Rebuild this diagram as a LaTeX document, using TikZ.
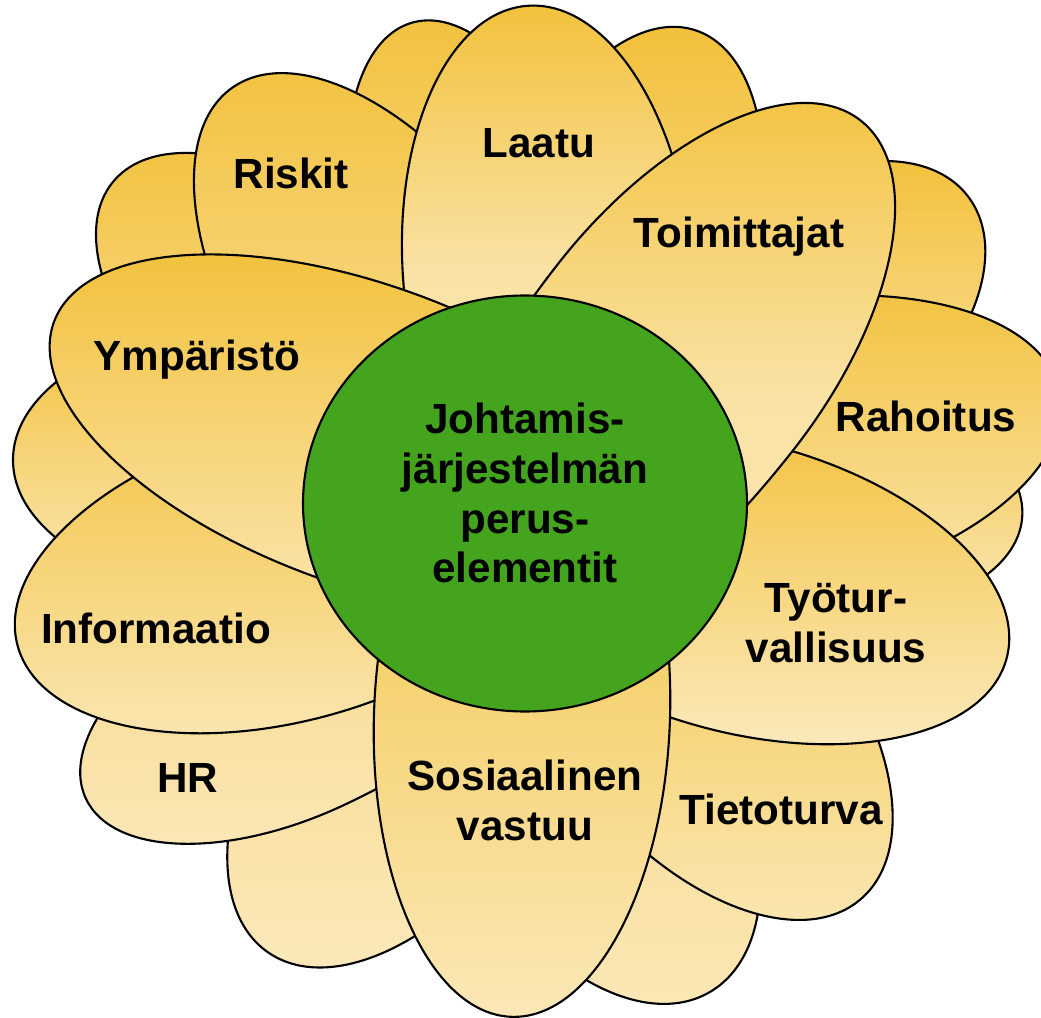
\documentclass[tikz,border=0pt]{standalone}
\usepackage{fontspec}
\setmainfont{Liberation Sans}
\definecolor{petaldark}{HTML}{F2C13B}
\definecolor{petalmid}{HTML}{F6D582}
\definecolor{petallight}{HTML}{FBE8B8}
\definecolor{coregreen}{HTML}{44A41E}
\begin{document}
\begin{tikzpicture}[x=0.01cm,y=0.01cm]
\tikzstyle{petal}=[draw=black,line width=0.6pt,top color=petaldark,bottom color=petallight]
\tikzstyle{longpetal}=[petal,middle color=petallight!85!petaldark]
\tikzstyle{lowpetal}=[draw=black,line width=0.6pt,top color=petalmid,bottom color=petallight]
\tikzstyle{petaltext}=[font=\fontsize{12}{14.2}\selectfont\bfseries,align=center,inner sep=0pt]
\tikzstyle{core}=[draw=black,line width=0.6pt,fill=coregreen]
\useasboundingbox (0,0) rectangle (1041,-1018);
\clip (0,0) rectangle (1041,-1018);
% back row
\path[petal,rotate around={106:(481,-263)}] (481,-263) ellipse [x radius=250,y radius=120];
\path[petal,rotate around={72:(618,-268)}] (618,-268) ellipse [x radius=250,y radius=130];
\path[petal,rotate around={38:(802,-325)}] (802,-325) ellipse [x radius=210,y radius=128];
\path[petal,rotate around={-5:(793,-498)}] (793,-498) ellipse [x radius=230,y radius=120];
\path[lowpetal,rotate around={-60:(591,-787)}] (591,-787) ellipse [x radius=237,y radius=140];
\path[lowpetal,rotate around={-125:(410,-749)}] (410,-749) ellipse [x radius=248,y radius=140];
\path[petal,rotate around={180:(268,-460)}] (268,-460) ellipse [x radius=255,y radius=140];
\path[petal,rotate around={140:(305,-342)}] (305,-342) ellipse [x radius=250,y radius=130];
% front row
\path[petal,rotate around={125:(396,-321)}] (396,-321) ellipse [x radius=285,y radius=145];
\path[petal,rotate around={11:(775,-448)}] (775,-448) ellipse [x radius=290,y radius=145];
\path[petal,rotate around={-50:(700,-709)}] (700,-709) ellipse [x radius=249,y radius=140];
\path[lowpetal,shift={(294.3,-701.3)},rotate=205] (0,-115)
    arc [start angle=-90,end angle=90,x radius=230,y radius=115]
    arc [start angle=90,end angle=270,x radius=300,y radius=115] -- cycle;
\path[longpetal,rotate around={94.5:(548,-272)}] (548,-272) ellipse [x radius=267,y radius=145];
\path[petal,rotate around={-15:(740,-587)}] (740,-587) ellipse [x radius=276,y radius=145];
\path[longpetal,shift={(675.8,-356.8)},rotate=52] (0,-150)
    arc [start angle=-90,end angle=90,x radius=300,y radius=150]
    arc [start angle=90,end angle=270,x radius=400,y radius=150] -- cycle;
\path[petal,rotate around={195:(288,-573)}] (288,-573) ellipse [x radius=280,y radius=148];
\path[petal,rotate around={-92:(522,-716)}] (522,-716) ellipse [x radius=301,y radius=148];
\path[petal,rotate around={160:(364,-435)}] (364,-435) ellipse [x radius=330,y radius=150];
\path[core] (525,-503.5) ellipse [x radius=222,y radius=208];

\node[petaltext,anchor=base] (laatu) at (539,-157) {Laatu};
\node[petaltext,anchor=base] (riskit) at (291,-189) {Riskit};
\node[petaltext,anchor=base] (toimittajat) at (739,-248) {Toimittajat};
\node[petaltext,anchor=base] (rahoitus) at (926,-432) {Rahoitus};
\node[petaltext] (tyoturva) at (836,-623) {Työtur-\\vallisuus};
\node[petaltext,anchor=base] (tietoturva) at (781,-825) {Tietoturva};
\node[petaltext] (sosiaalinen) at (525,-800) {Sosiaalinen\\vastuu};
\node[petaltext,anchor=base] (hr) at (188,-793) {HR};
\node[petaltext,anchor=base] (informaatio) at (156,-643) {Informaatio};
\node[petaltext,anchor=base] (ymparisto) at (197,-370) {Ympäristö};
\node[petaltext] (ydin) at (525,-493) {Johtamis-\\järjestelmän\\perus-\\elementit};
\end{tikzpicture}
\end{document}
